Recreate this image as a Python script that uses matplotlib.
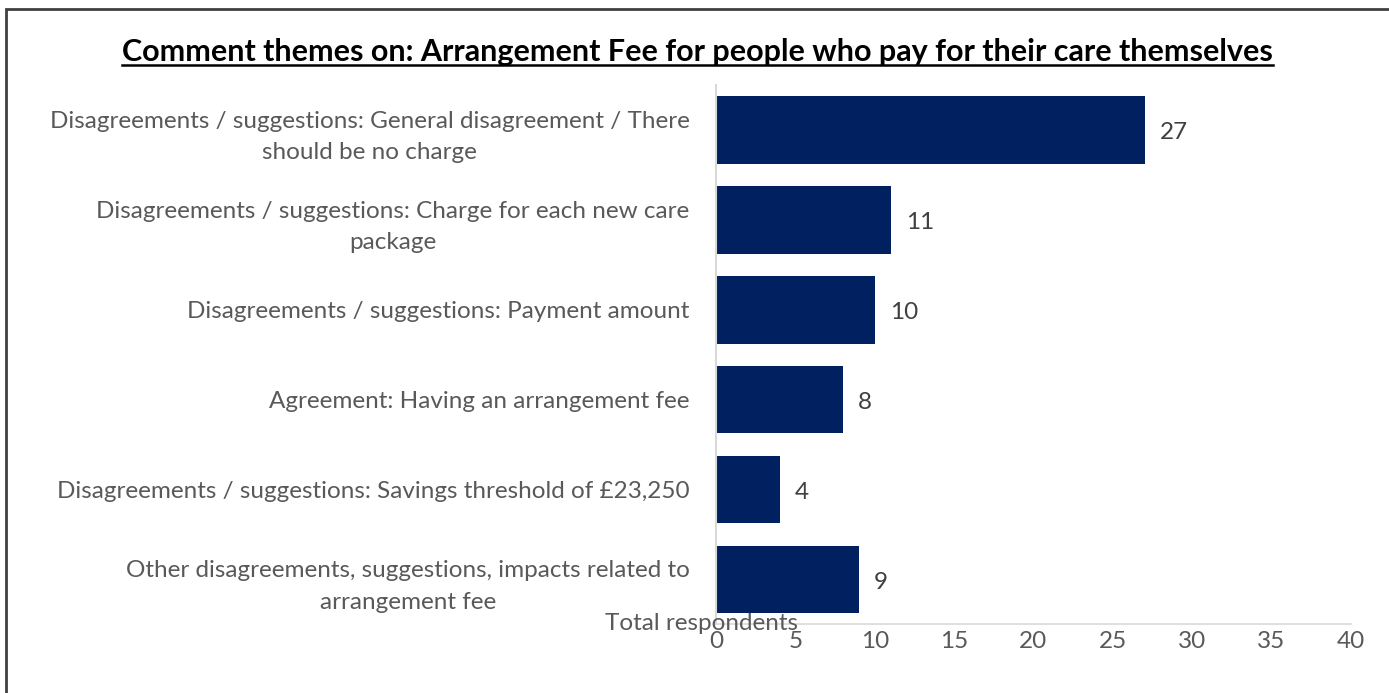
import matplotlib
matplotlib.use("Agg")
import matplotlib.pyplot as plt
from matplotlib.patches import Rectangle
from matplotlib.lines import Line2D

plt.rcParams['font.family'] = ['Lato', 'DejaVu Sans']

# comment themes, top to bottom
themes = [
    "Disagreements / suggestions: General disagreement / There\nshould be no charge",
    "Disagreements / suggestions: Charge for each new care\npackage",
    "Disagreements / suggestions: Payment amount",
    "Agreement: Having an arrangement fee",
    "Disagreements / suggestions: Savings threshold of £23,250",
    "Other disagreements, suggestions, impacts related to\narrangement fee",
]
counts = [27, 11, 10, 8, 4, 9]
xticks = [0, 5, 10, 15, 20, 25, 30, 35, 40]

navy = "#002060"
grey_text = "#595959"
fs = 17.5

fig = plt.figure(figsize=(13.89, 6.93), dpi=100)
ax = fig.add_axes([0.5155, 0.099, 0.457, 0.778])

ypos = list(range(len(themes)))
ax.barh(ypos, counts, height=0.75, color=navy)
ax.set_ylim(len(themes) - 0.5, -0.5)
ax.set_xlim(0, 40)

for y, v in zip(ypos, counts):
    ax.annotate(str(v), (v, y), xytext=(11, -2), textcoords="offset points",
                va="center", ha="left", fontsize=fs, color="#404040")

ax.set_yticks(ypos)
ax.set_yticklabels(themes, fontsize=fs, color=grey_text, ha="right",
                   multialignment="center", linespacing=1.6)
ax.set_xticks(xticks)
ax.set_xticklabels([str(t) for t in xticks], fontsize=fs, color=grey_text)
ax.tick_params(axis="both", length=0)
ax.tick_params(axis="y", pad=19)
ax.tick_params(axis="x", pad=5)

for side in ["top", "right"]:
    ax.spines[side].set_visible(False)
ax.spines["left"].set_color("#d9d9d9")
ax.spines["bottom"].set_color("#d9d9d9")
ax.spines["left"].set_linewidth(1.5)
ax.spines["bottom"].set_linewidth(1.2)

fig.text(0.4355, 0.101, "Total respondents", fontsize=fs, color=grey_text,
         ha="left", va="center")

# title with underline
title = fig.text(0.502, 0.925, "Comment themes on: Arrangement Fee for people who pay for their care themselves",
                 fontsize=22, fontweight="bold", color="black", ha="center", va="center")
fig.canvas.draw()
bb = title.get_window_extent().transformed(fig.transFigure.inverted())
fig.add_artist(Line2D([bb.x0, bb.x1], [bb.y0 + 0.002, bb.y0 + 0.002],
                      transform=fig.transFigure, color="black", lw=1.8))

# outer frame
fig.add_artist(Rectangle((0.0045, -0.05), 1.1, 1.037, transform=fig.transFigure,
                         fill=False, edgecolor="#404040", lw=2))

fig.savefig("out.png", dpi=100)
